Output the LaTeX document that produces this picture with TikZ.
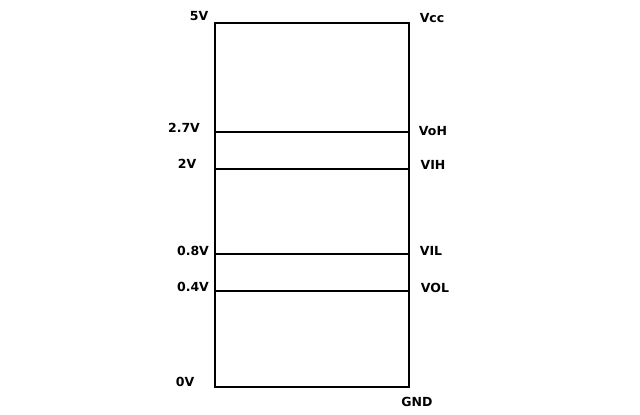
\documentclass[tikz,border=0pt]{standalone}
\usepackage{fontspec}
\setmainfont{DejaVu Sans}
\begin{document}
\begin{tikzpicture}[x=1pt,y=-1pt]
            \useasboundingbox (0,0) rectangle (640,415);
            \tikzset{lvl/.style={line width=1.8pt},
                     lab/.style={font=\bfseries\fontsize{12.5}{13}\selectfont, inner sep=0pt}}
            \coordinate (TL) at (215,23);
            \coordinate (TR) at (409,23);
            \coordinate (BL) at (215,387);
            \coordinate (BR) at (409,387);
            \coordinate (OHl) at (215,132);
            \coordinate (OHr) at (409,132);
            \coordinate (IHl) at (215,169);
            \coordinate (IHr) at (409,169);
            \coordinate (ILl) at (215,254);
            \coordinate (ILr) at (409,254);
            \coordinate (OLl) at (215,291);
            \coordinate (OLr) at (409,291);

            \draw [lvl] (TL) rectangle (BR);
            \draw [lvl] (OHl) -- (OHr);
            \draw [lvl] (IHl) -- (IHr);
            \draw [lvl] (ILl) -- (ILr);
            \draw [lvl] (OLl) -- (OLr);

            \node [lab] (v5)   at (199,16)  {5V};
            \node [lab] (v27)  at (184,128) {2.7V};
            \node [lab] (v2)   at (187,164) {2V};
            \node [lab] (v08)  at (193,251) {0.8V};
            \node [lab] (v04)  at (193,287) {0.4V};
            \node [lab] (v0)   at (185,382) {0V};

            \node [lab] (vcc)  at (432,18)  {Vcc};
            \node [lab] (voh)  at (433,131) {VoH};
            \node [lab] (vih)  at (433,165) {VIH};
            \node [lab] (vil)  at (431,251) {VIL};
            \node [lab] (vol)  at (435,288) {VOL};
            \node [lab] (gnd)  at (417,402) {GND};
        \end{tikzpicture}
\end{document}
